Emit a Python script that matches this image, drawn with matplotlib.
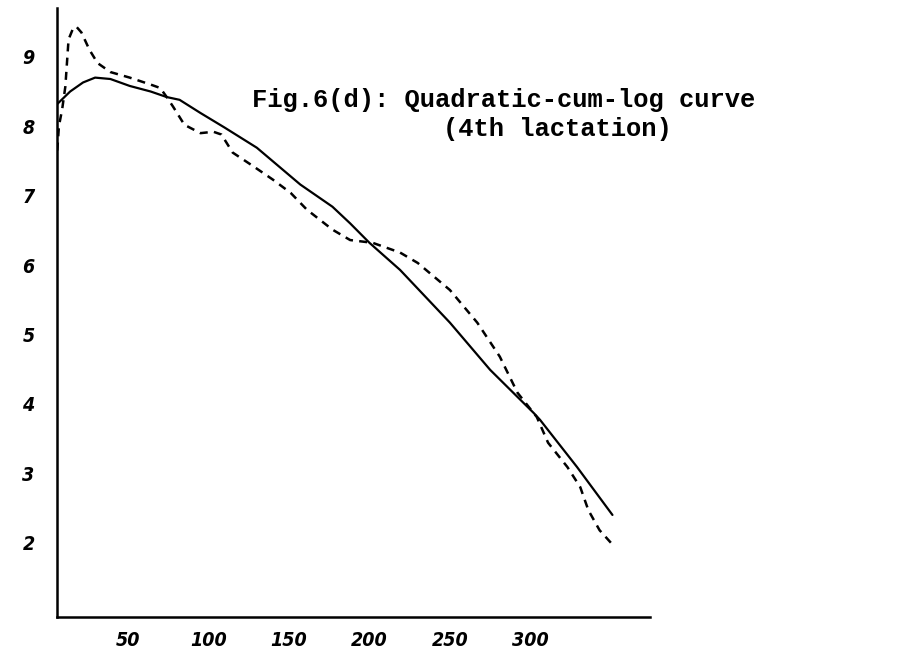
import matplotlib
matplotlib.use("Agg")
import matplotlib.pyplot as plt

# fitted curve (solid)
fit_days = [6, 14, 22, 29.5, 39, 51, 64, 74, 82, 95, 110, 130, 157, 177, 188,
            200, 219, 250, 275, 302, 306, 329, 351]
fit_yield = [8.32, 8.50, 8.63, 8.70, 8.68, 8.58, 8.50, 8.42, 8.38, 8.19, 7.98, 7.69,
             7.16, 6.84, 6.60, 6.32, 5.93, 5.17, 4.49, 3.87, 3.77, 3.09, 2.40]

# observed curve (dashed)
obs_days = [6, 7, 9, 11, 13, 16, 18, 21, 26, 31, 39, 51, 64, 70, 74, 78, 85, 95,
            103, 108, 115, 128, 140, 151, 161, 177, 188, 202, 219, 230, 250, 267,
            281, 292, 304, 311, 323, 331, 336, 343, 350]
obs_yield = [7.65, 8.00, 8.24, 8.57, 9.25, 9.42, 9.43, 9.35, 9.10, 8.91, 8.78, 8.70,
             8.60, 8.55, 8.42, 8.28, 8.02, 7.90, 7.92, 7.88, 7.62, 7.42, 7.23, 7.04,
             6.80, 6.51, 6.36, 6.32, 6.18, 6.03, 5.64, 5.17, 4.68, 4.16, 3.81, 3.44,
             3.09, 2.80, 2.47, 2.18, 2.00]

x_ticks = [50, 100, 150, 200, 250, 300]
y_ticks = [2, 3, 4, 5, 6, 7, 8, 9]

fig = plt.figure(figsize=(9.13, 6.61), dpi=100)
ax = fig.add_axes([0.0624, 0.0666, 0.65, 0.921])

ax.plot(fit_days, fit_yield, color="black", linewidth=1.6, solid_capstyle="round")
ax.plot(obs_days, obs_yield, color="black", linewidth=1.8, linestyle=(0, (3.2, 2.5)))

ax.set_xlim(5.8, 374.6)
ax.set_ylim(0.93, 9.7)
ax.set_xticks(x_ticks)
ax.set_yticks(y_ticks)
ax.tick_params(length=0, labelsize=14)
ax.tick_params(axis="y", pad=16)
ax.tick_params(axis="x", pad=10)
for lab in ax.get_xticklabels() + ax.get_yticklabels():
    lab.set_fontstyle("italic")
    lab.set_fontweight("bold")
    lab.set_fontstretch("condensed")

ax.spines["top"].set_visible(False)
ax.spines["right"].set_visible(False)
ax.spines["left"].set_linewidth(1.8)
ax.spines["bottom"].set_linewidth(1.8)

title_font = dict(family="Liberation Mono", fontweight="bold", fontsize=18.4)
fig.text(252 / 913, 1 - 100 / 661, "Fig.6(d): Quadratic-cum-log curve",
         ha="left", va="center", **title_font)
fig.text(443 / 913, 1 - 129 / 661, "(4th lactation)",
         ha="left", va="center", **title_font)

fig.savefig("out.png", dpi=100)
